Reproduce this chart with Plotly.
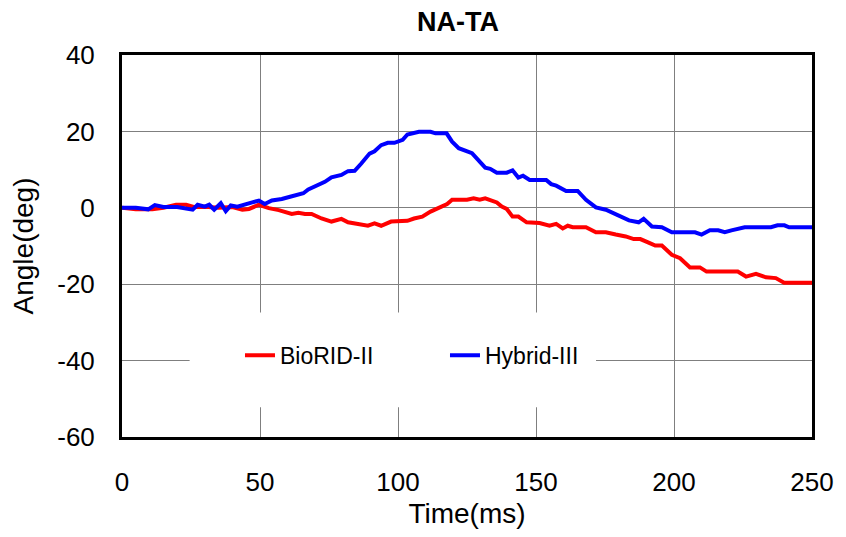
import plotly.graph_objects as go

# ---- data ----
biorid_t = [0, 5, 11, 15, 19.6, 23.2, 26, 30, 35, 40,
            43.6, 46, 49.6, 53.2, 56.8, 61.5, 63.9, 66.3, 68.7, 72.3,
            75.9, 79.5, 81.9, 86.7, 89.1, 91.5, 93.9, 97.5, 103.4, 105.8,
            108.8, 111.8, 115.4, 117.8, 119.6, 125, 127.4, 129.6, 131.6, 135.8,
            137.6, 139.4, 141.5, 143.6, 146.6, 151.3, 154.9, 157.3, 159.7, 161.5,
            163.3, 168.1, 171.7, 175.3, 178.9, 182.5, 185.4, 187.8, 190.8, 193.2,
            195.6, 199.2, 202.2, 204, 205.8, 209.4, 211.8, 223.1, 226.1, 229.7,
            233.3, 236.9, 239.9, 250]
biorid_v = [0, -0.4, -0.4, 0, 0.8, 0.8, 0.2, 0.3, 0, 0.2,
            -0.5, -0.3, 0.8, -0.1, -0.6, -1.6, -1.3, -1.6, -1.6, -2.8,
            -3.6, -2.9, -3.8, -4.4, -4.7, -4.1, -4.7, -3.6, -3.4, -2.8,
            -2.3, -1.0, 0.1, 1.0, 2.1, 2.1, 2.5, 2.1, 2.5, 1.4,
            0.3, -0.3, -2.3, -2.3, -3.8, -4.0, -4.7, -4.2, -5.4, -4.7,
            -5.1, -5.1, -6.4, -6.4, -7.0, -7.5, -8.2, -8.2, -9.1, -9.9,
            -9.9, -12.3, -13.2, -14.3, -15.6, -15.6, -16.7, -16.7, -18.0, -17.3,
            -18.2, -18.4, -19.6, -19.6]

hybrid_t = [0, 5, 9.5, 11.9, 15, 20,
            25.6, 27.4, 30, 31.6, 33.4, 35.8, 37.6, 39.4, 41.8, 44.8,
            47.2, 49.6, 51.7, 54.3, 57.9, 60.9, 63.9, 65.7, 67.5, 70.5,
            73.5, 75.9, 79.5, 81.9, 84.3, 86.7, 89.7, 91.5, 93.9, 96.3,
            98.7, 101.7, 103.4, 107.6, 111.8, 113.6, 117.6, 119.6, 122, 126.8,
            129.2, 131.6, 133.4, 135.8, 139.4, 141.5, 143.6, 145.3, 147.7, 153.7,
            155.5, 157.3, 160.9, 165.1, 168.1, 171.7, 175.3, 178.9, 183.7, 187.2,
            189, 192, 195.6, 199.2, 207.6, 210, 213, 216, 218.4, 220.8,
            225.6, 235.1, 237.5, 240, 241.7, 250]
hybrid_v = [0, 0, -0.4, 0.7, 0.2, 0.2,
            -0.5, 0.8, 0.3, 0.8, -0.5, 1.2, -0.9, 0.6, 0.3, 0.8,
            1.4, 1.9, 1.0, 1.9, 2.3, 2.9, 3.6, 3.8, 4.8, 5.8,
            6.8, 8.0, 8.6, 9.6, 9.7, 11.6, 14.2, 14.8, 16.4, 17.0,
            17.0, 17.8, 19.2, 19.9, 19.9, 19.5, 19.5, 17.3, 15.6, 14.3,
            12.5, 10.5, 10.2, 9.2, 9.2, 9.8, 7.9, 8.4, 7.3, 7.3,
            6.2, 5.8, 4.4, 4.4, 2.1, 0.1, -0.5, -1.7, -3.3, -3.8,
            -2.9, -4.9, -5.1, -6.4, -6.4, -7.0, -5.9, -5.9, -6.4, -5.9,
            -5.1, -5.1, -4.6, -4.6, -5.1, -5.1]

x_ticks = [0, 50, 100, 150, 200, 250]
y_ticks = [40, 20, 0, -20, -40, -60]

FONT = "Liberation Sans, Arial, sans-serif"

fig = go.Figure()
fig.add_trace(go.Scatter(x=biorid_t, y=biorid_v, mode="lines", name="BioRID-II",
                         line=dict(color="#FF0000", width=4)))
fig.add_trace(go.Scatter(x=hybrid_t, y=hybrid_v, mode="lines", name="Hybrid-III",
                         line=dict(color="#0000FF", width=4)))

# white area behind legend (covers gridlines)
fig.add_shape(type="rect", xref="paper", yref="paper",
              x0=0.098, x1=0.687, y0=0.078, y1=0.326,
              fillcolor="white", line=dict(width=0), layer="above")

W, H = 838, 529  # page body has an 8px margin

fig.update_layout(
    width=W, height=H,
    margin=dict(l=114, r=28, t=47, b=99),
    paper_bgcolor="white", plot_bgcolor="white",
    font=dict(family=FONT, color="black", size=26),
    title=dict(text="<b>NA-TA</b>", x=450 / W, xref="container", xanchor="center",
               y=1 - 4 / H, yref="container", yanchor="top",
               font=dict(family=FONT, size=27, color="black")),
    showlegend=True,
    legend=dict(orientation="h", x=0.171, y=0.214, xanchor="left", yanchor="middle",
                bgcolor="rgba(0,0,0,0)", font=dict(family=FONT, size=23, color="black"),
                entrywidth=160, entrywidthmode="pixels"),
    xaxis=dict(range=[0, 250], tickvals=x_ticks, ticktext=[str(v) for v in x_ticks],
               showgrid=True, gridcolor="#7f7f7f", gridwidth=1,
               showline=True, linecolor="black", linewidth=3, mirror=True,
               zeroline=False, ticks="", ticklabelstandoff=20,
               tickfont=dict(family=FONT, size=26),
               title=dict(text="Time(ms)", font=dict(family=FONT, size=28), standoff=8)),
    yaxis=dict(range=[-60, 40], tickvals=y_ticks, ticktext=[str(v) for v in y_ticks],
               showgrid=True, gridcolor="#7f7f7f", gridwidth=1,
               showline=True, linecolor="black", linewidth=3, mirror=True,
               zeroline=False, ticks="", ticklabelstandoff=19,
               tickfont=dict(family=FONT, size=26),
               title=dict(text="Angle(deg)", font=dict(family=FONT, size=28), standoff=16)),
)

fig.write_html("out.html")
